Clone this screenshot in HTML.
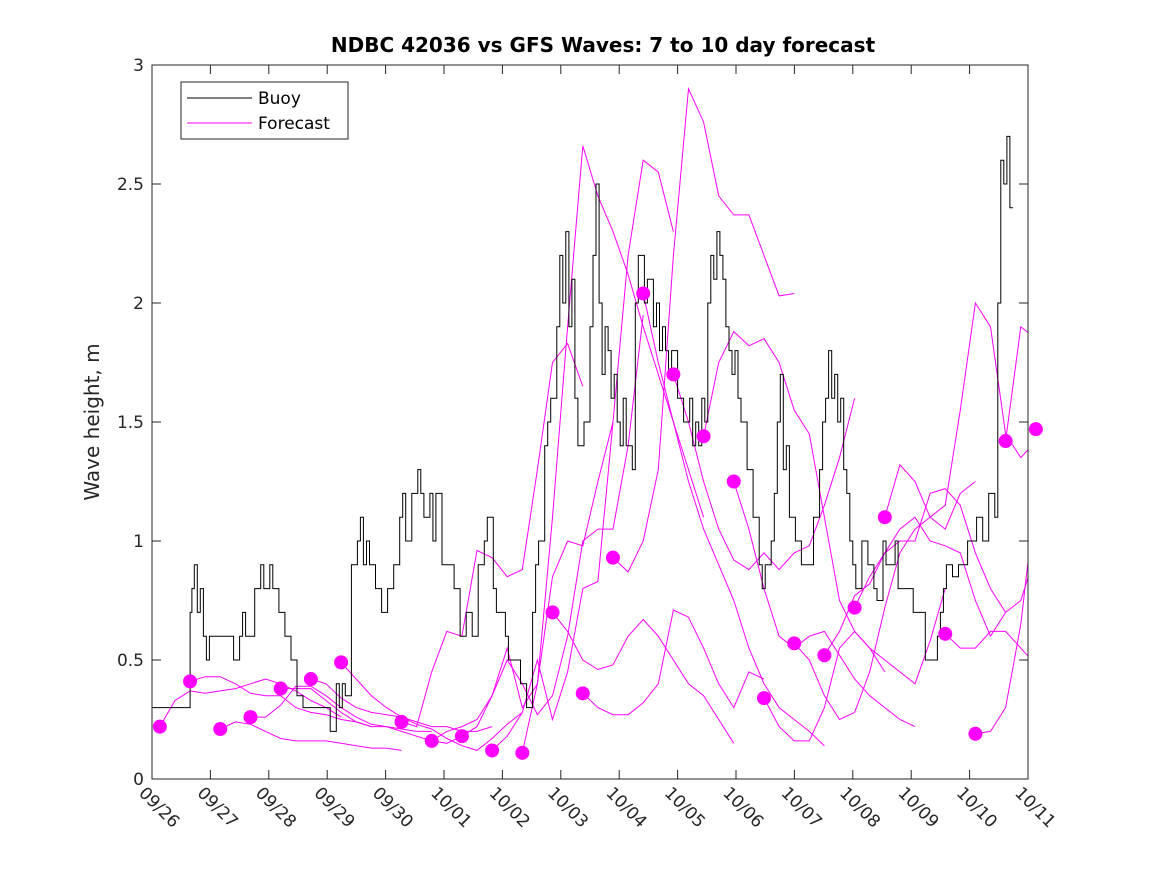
<!DOCTYPE html>
<html><head><meta charset="utf-8"><style>
body{margin:0;background:#fff;}
svg{display:block;font-family:"DejaVu Sans","Liberation Sans",sans-serif;}
</style></head><body>
<svg id="chart" width="1167" height="875" viewBox="0 0 1167 875" xmlns="http://www.w3.org/2000/svg">
<rect width="1167" height="875" fill="#fff"/>
<text x="603" y="52" text-anchor="middle" font-size="20" font-weight="bold" fill="#000">NDBC 42036 vs GFS Waves: 7 to 10 day forecast</text>
<text transform="translate(99,422) rotate(-90)" text-anchor="middle" font-size="20" fill="#262626">Wave height, m</text>
<defs><clipPath id="plotclip"><rect x="152" y="65" width="876" height="714"/></clipPath></defs>
<g id="marks" clip-path="url(#plotclip)"></g>
<g id="dots"></g>
<g id="axes"></g>
<g>
<rect x="181" y="82" width="167" height="57" fill="#fff" stroke="#262626" stroke-width="1"/>
<line x1="187" y1="98" x2="252" y2="98" stroke="#000" stroke-width="1"/>
<text x="258" y="104" font-size="17" fill="#000">Buoy</text>
<line x1="187" y1="123" x2="252" y2="123" stroke="#ff00ff" stroke-width="1"/>
<text x="258" y="129" font-size="17" fill="#000">Forecast</text>
</g>
</svg>
<script>
const xTickLabels=["09/26","09/27","09/28","09/29","09/30","10/01","10/02","10/03","10/04","10/05","10/06","10/07","10/08","10/09","10/10","10/11"];
const yTicks=[0,0.5,1,1.5,2,2.5,3];
const yTickLabels=["0","0.5","1","1.5","2","2.5","3"];
const buoyDay=[0,0.6,0.63,0.66,0.7,0.75,0.8,0.85,0.9,0.95,1.0,1.3,1.35,1.4,1.45,1.5,1.55,1.6,1.7,1.8,1.85,1.9,1.95,2.0,2.1,2.2,2.3,2.4,2.5,2.6,2.65,2.9,2.95,3.0,3.05,3.1,3.15,3.2,3.3,3.4,3.45,3.5,3.55,3.6,3.7,3.8,3.9,4.0,4.1,4.15,4.2,4.3,4.4,4.45,4.5,4.6,4.65,4.7,4.8,4.9,5.0,5.1,5.2,5.3,5.4,5.5,5.55,5.65,5.7,5.85,5.9,6.0,6.1,6.2,6.3,6.35,6.4,6.5,6.55,6.6,6.7,6.75,6.8,6.85,6.9,6.95,7.0,7.05,7.1,7.15,7.25,7.3,7.35,7.4,7.45,7.5,7.55,7.6,7.65,7.7,7.75,7.8,7.85,7.9,7.95,8.0,8.05,8.1,8.15,8.2,8.3,8.35,8.4,8.45,8.5,8.55,8.6,8.7,8.8,8.9,8.95,9.0,9.05,9.1,9.15,9.2,9.25,9.3,9.35,9.4,9.45,9.5,9.55,9.6,9.65,9.7,9.75,9.85,9.95,10.05,10.1,10.15,10.25,10.3,10.35,10.4,10.45,10.5,10.55,10.65,10.75,10.85,10.95,11.05,11.1,11.15,11.2,11.25,11.3,11.35,11.4,11.45,11.5,11.55,11.6,11.65,11.75,11.85,11.95,12.0,12.05,12.1,12.15,12.3,12.35,12.4,12.45,12.5,12.6,12.8,13.0,13.05,13.1,13.15,13.25,13.35,13.5,13.65,13.75,13.85,13.95,14.0,14.05,14.1,14.15,14.2,14.25,14.3,14.33];
const buoyHeight=[0.3,0.3,0.7,0.8,0.9,0.7,0.8,0.6,0.5,0.6,0.6,0.6,0.5,0.5,0.6,0.7,0.6,0.6,0.8,0.9,0.8,0.8,0.9,0.8,0.7,0.6,0.5,0.35,0.3,0.3,0.3,0.3,0.2,0.2,0.4,0.3,0.4,0.35,0.9,1.0,1.1,0.9,1.0,0.9,0.8,0.7,0.8,0.9,1.1,1.2,1.0,1.2,1.3,1.2,1.1,1.2,1.0,1.2,0.9,0.9,0.8,0.6,0.7,0.6,0.9,1.0,1.1,0.8,0.7,0.6,0.5,0.5,0.4,0.3,0.7,0.9,1.0,1.4,1.5,1.6,1.9,2.2,2.0,2.3,1.9,2.1,1.6,1.4,1.4,1.5,1.9,2.2,2.5,2.0,1.7,1.9,1.8,1.6,1.7,1.5,1.4,1.6,1.4,1.4,1.3,2.0,2.2,2.2,2.0,2.1,1.9,2.0,1.8,1.9,1.8,1.7,1.8,1.6,1.5,1.6,1.4,1.5,1.4,1.6,1.5,2.0,2.2,2.1,2.3,2.2,2.1,1.9,1.8,1.7,1.8,1.6,1.5,1.3,1.1,0.9,0.8,0.9,1.0,1.2,1.5,1.7,1.3,1.4,1.1,1.0,0.9,0.9,1.1,1.3,1.5,1.6,1.8,1.6,1.7,1.5,1.6,1.3,1.2,1.0,0.9,0.8,1.0,0.9,0.8,0.75,0.75,1.0,0.9,1.0,0.8,0.8,0.8,0.8,0.7,0.5,0.6,0.7,0.8,0.9,0.85,0.9,1.0,1.1,1.0,1.2,1.1,2.0,2.6,2.5,2.7,2.4];
const fcStart=[0.13,0.63,1.13,1.63,2.13,2.63,3.13,4.13,4.63,5.13,5.63,6.13,6.63,7.13,7.63,8.13,8.63,9.13,9.63,10.13,10.63,11.13,11.63,12.13,13.13,13.63,14.13,14.63];
const fcValues=[
[0.22,0.33,0.37,0.36,0.37,0.38,0.40,0.42,0.40,0.37,0.33,0.30,0.26],
[0.41,0.43,0.43,0.40,0.36,0.35,0.35,0.30,0.28,0.27,0.25,0.24,0.22],
[0.21,0.24,0.23,0.20,0.17,0.16,0.16,0.16,0.15,0.14,0.13,0.13,0.12],
[0.26,0.26,0.31,0.39,0.39,0.35,0.30,0.26,0.23,0.22,0.21,0.20,0.20],
[0.38,0.38,0.38,0.33,0.28,0.24,0.22,0.22,0.20,0.18,0.16,0.15,0.18],
[0.42,0.40,0.34,0.30,0.28,0.27,0.26,0.24,0.22,0.22,0.20,0.20,0.22],
[0.49,0.42,0.35,0.30,0.26,0.23,0.21,0.17,0.14,0.12,0.17,0.23,0.28],
[0.24,0.22,0.45,0.62,0.60,0.96,0.93,0.85,0.88,1.30,1.75,1.83,1.65],
[0.16,0.20,0.22,0.25,0.35,0.55,0.30,0.40,0.85,1.00,0.98,1.25,1.50],
[0.18,0.22,0.35,0.50,0.40,0.27,0.35,0.60,1.00,1.05,1.05,1.40,1.95],
[0.12,0.18,0.28,0.50,0.25,0.45,0.80,0.83,1.50,2.20,2.60,2.55,2.30],
[0.11,0.40,1.10,1.90,2.66,2.45,2.30,2.12,1.90,1.70,1.50,1.30,1.10],
[0.70,0.62,0.50,0.46,0.48,0.60,0.67,0.60,0.50,0.40,0.35,0.25,0.15],
[0.36,0.30,0.27,0.27,0.32,0.40,0.71,0.68,0.55,0.40,0.30,0.45,0.42],
[0.93,0.87,1.00,1.30,2.20,2.90,2.76,2.45,2.37,2.37,2.20,2.03,2.04],
[2.04,1.75,1.50,1.25,1.05,0.90,0.75,0.55,0.40,0.30,0.25,0.20,0.14],
[1.70,1.50,1.25,1.05,0.92,0.88,0.95,0.88,0.95,0.98,1.15,1.35,1.60],
[1.44,1.75,1.88,1.82,1.85,1.75,1.55,1.45,1.10,0.75,0.62,0.55,0.45],
[1.25,1.05,0.80,0.60,0.55,0.60,0.62,0.52,0.42,0.35,0.30,0.25,0.22],
[0.34,0.22,0.16,0.16,0.30,0.55,0.62,0.55,0.50,0.45,0.40,0.58,0.80],
[0.57,0.50,0.35,0.25,0.28,0.45,0.72,0.95,1.05,1.10,1.05,1.20,1.25],
[0.52,0.62,0.77,0.82,0.95,1.05,1.10,1.00,0.98,0.95,0.75,0.60,0.70],
[0.72,0.85,0.95,1.00,1.00,1.20,1.22,1.15,0.95,0.80,0.70,0.75,0.95],
[1.10,1.32,1.25,1.10,1.15,1.55,2.00,1.90,1.45,1.35,1.42,1.27,1.35],
[0.61,0.55,0.55,0.62,0.62,0.55,0.48,0.42,0.48,0.58,0.85,1.15,1.20],
[0.19,0.20,0.30,0.65,1.20,1.60,1.90,1.80,1.60,1.45,1.35,1.20],
[1.42,1.90,1.85,1.76,1.76,1.65,1.55],
[1.47,1.40,1.35,1.40]
];
const fcStepDays=0.25;
const NS="http://www.w3.org/2000/svg";
const X0=152,X1=1028,Y0=779,Y1=65,DATA_SPAN=14.5,TICK_SPAN=15,YMAX=3;
function xs(d){return X0+(X1-X0)*d/DATA_SPAN;}
function xt(i){return X0+(X1-X0)*i/TICK_SPAN;}
function ys(v){return Y0-(Y0-Y1)*v/YMAX;}
function mk(tag,attrs,parent){const e=document.createElementNS(NS,tag);for(const k in attrs)e.setAttribute(k,attrs[k]);parent.appendChild(e);return e;}
const marks=document.getElementById('marks');
const dots=document.getElementById('dots');
const axes=document.getElementById('axes');
fcStart.forEach((s,i)=>{
  const pts=fcValues[i].map((v,j)=>xs(s+j*fcStepDays).toFixed(1)+","+ys(v).toFixed(1)).join(" ");
  const pl=mk('polyline',{points:pts,fill:'none',stroke:'#ff00ff','stroke-width':1},marks);
  
  
});
{
  let pts=[];
  for(let i=0;i<buoyDay.length;i++){
    if(i>0)pts.push(xs(buoyDay[i]).toFixed(1)+","+ys(buoyHeight[i-1]).toFixed(1));
    pts.push(xs(buoyDay[i]).toFixed(1)+","+ys(buoyHeight[i]).toFixed(1));
  }
  const pl=mk('polyline',{points:pts.join(" "),fill:'none',stroke:'#000','stroke-width':1},marks);
  
  
}
fcStart.forEach((s,i)=>{
  const c=mk('circle',{cx:xs(s),cy:ys(fcValues[i][0]),r:7,fill:'#ff00ff'},dots);
  
  
});
const fr=mk('rect',{x:X0,y:Y1,width:X1-X0,height:Y0-Y1,fill:'none',stroke:'#262626','stroke-width':1},axes);


xTickLabels.forEach((lab,i)=>{
  const x=xt(i);
  mk('line',{x1:x,y1:Y0,x2:x,y2:Y0-9,stroke:'#262626'},axes);
  mk('line',{x1:x,y1:Y1,x2:x,y2:Y1+9,stroke:'#262626'},axes);
  const t=mk('text',{x:0,y:0,'font-size':17,fill:'#262626',transform:`translate(${x-14},${Y0+15}) rotate(45)`},axes);
  t.textContent=lab;
  
  
});
yTicks.forEach((v,i)=>{
  const y=ys(v);
  mk('line',{x1:X0,y1:y,x2:X0+9,y2:y,stroke:'#262626'},axes);
  mk('line',{x1:X1,y1:y,x2:X1-9,y2:y,stroke:'#262626'},axes);
  const t=mk('text',{x:X0-8,y:y+6,'font-size':17,'text-anchor':'end',fill:'#262626'},axes);
  t.textContent=yTickLabels[i];
  
  
});
</script>
</body></html>
